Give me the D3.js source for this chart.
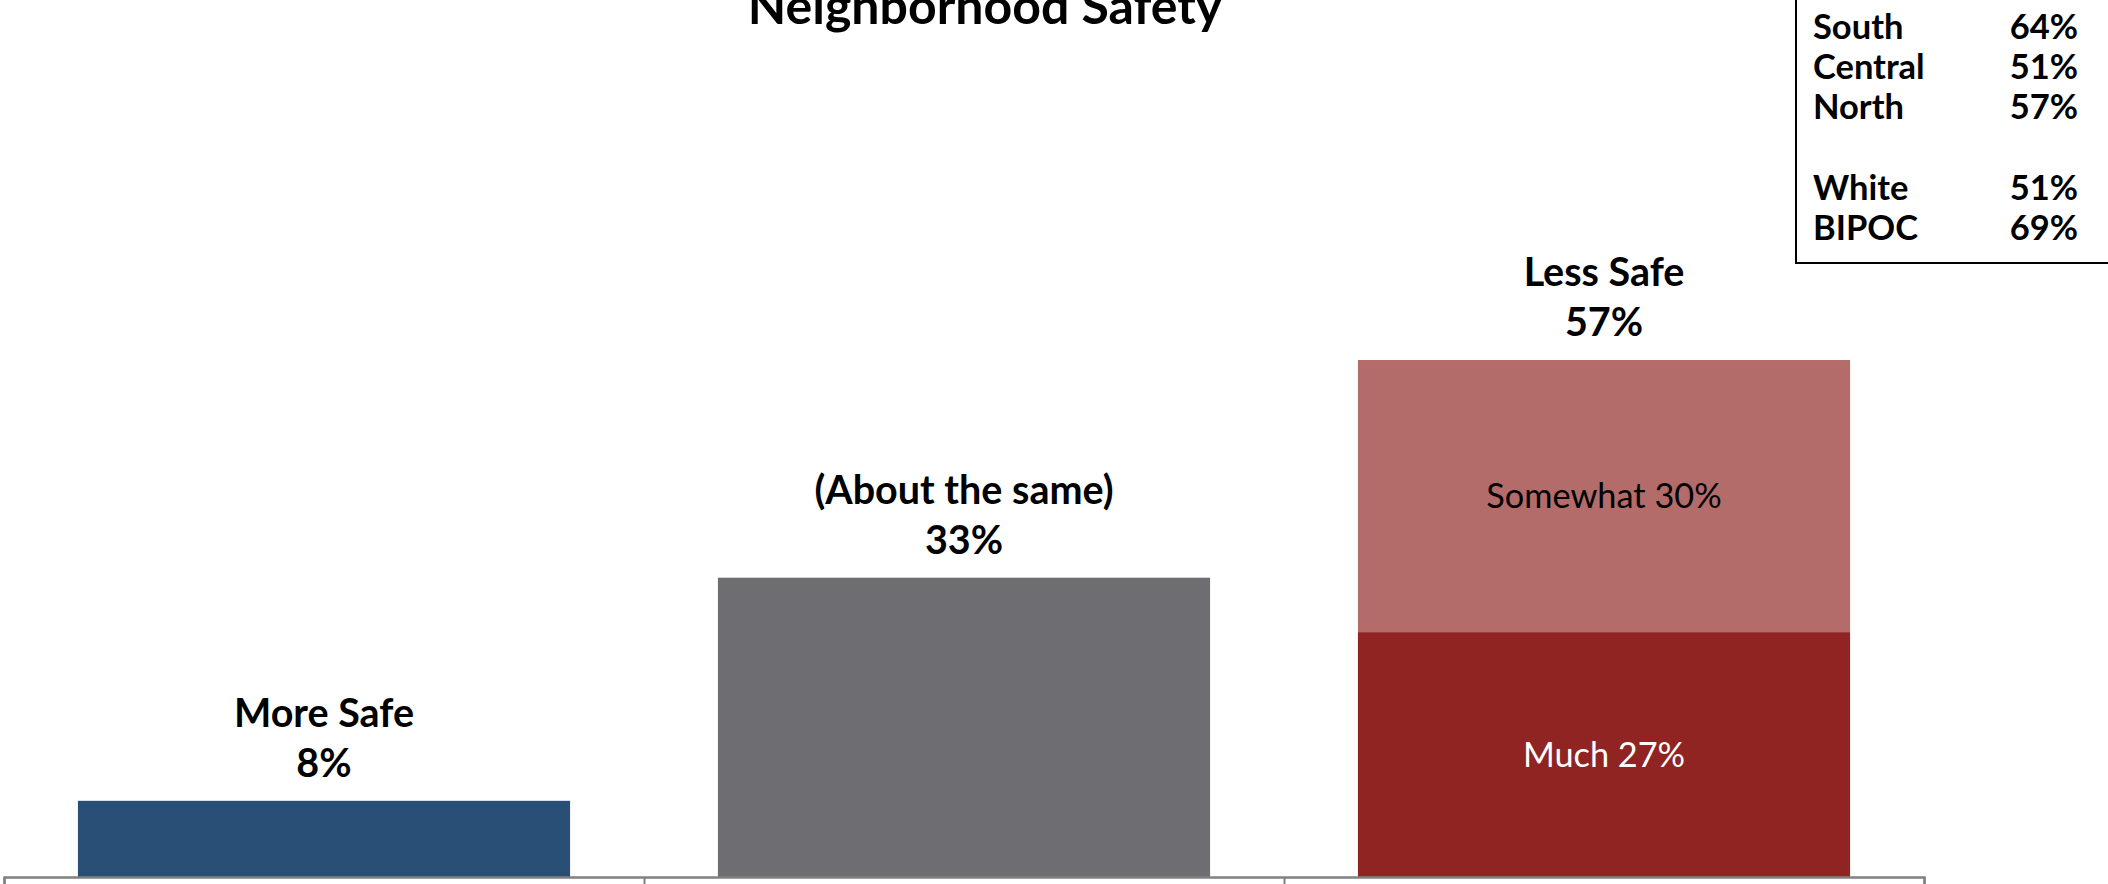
<!DOCTYPE html>
<html>
<head>
<meta charset="utf-8">
<script src="https://cdn.jsdelivr.net/npm/d3@7"></script>
<style>
  html, body { margin: 0; padding: 0; background: #ffffff; }
  svg { display: block; }
  text { font-family: Lato, "Noto Sans", sans-serif; }
</style>
</head>
<body>
<svg id="chart" width="2108" height="884"></svg>
<script>
// ---- data ----
const title = "Neighborhood Safety";
const categories = ["More Safe", "(About the same)", "Less Safe"];
const headerLabels = ["More Safe", "(About the same)", "Less Safe"];
const totals = [8.4, 33, 57];
const segmentNames = ["Much", "Somewhat"];
const moreSafeValues = [8.4];
const sameValues = [33];
const lessSafeMuch = [27];
const lessSafeSomewhat = [30];
const legendLabels = ["South", "Central", "North", "", "White", "BIPOC"];
const legendValues = ["64%", "51%", "57%", "", "51%", "69%"];

// ---- layout ----
const W = 2108, H = 884;
const baseY = 877;
const xLeft = 4, xRight = 1924;
const svg = d3.select("#chart");

const x = d3.scaleBand().domain(categories).range([xLeft, xRight])
  .paddingInner(0.231).paddingOuter(0.1155);
const y = d3.scaleLinear().domain([0, 100]).range([baseY, baseY - 907]);
const fmt = v => d3.format(".0f")(v) + "%";

// stacked structure built from the arrays
const stacks = [
  { cat: categories[0], segs: [{ name: "", v: moreSafeValues[0], color: "#2a4f77", text: null }] },
  { cat: categories[1], segs: [{ name: "", v: sameValues[0], color: "#6e6e72", text: null }] },
  { cat: categories[2], segs: [
      { name: segmentNames[0], v: lessSafeMuch[0], color: "#8f2422", text: "#ffffff" },
      { name: segmentNames[1], v: lessSafeSomewhat[0], color: "#b36c69", text: "#000000" }
  ] }
];
stacks.forEach(s => { let acc = 0; s.segs.forEach(g => { g.y0 = acc; acc += g.v; g.y1 = acc; }); });

const barsG = svg.append("g");
stacks.forEach(s => {
  barsG.selectAll(null).data(s.segs).enter().append("rect")
    .attr("x", x(s.cat))
    .attr("width", x.bandwidth())
    .attr("y", d => y(d.y1))
    .attr("height", d => y(d.y0) - y(d.y1))
    .attr("fill", d => d.color);
  barsG.selectAll(null).data(s.segs.filter(d => d.text)).enter().append("text")
    .attr("x", x(s.cat) + x.bandwidth() / 2)
    .attr("y", d => (y(d.y0) + y(d.y1)) / 2)
    .attr("dy", "0.36em")
    .attr("text-anchor", "middle")
    .attr("font-size", 34.3)
    .attr("fill", d => d.text)
    .text(d => d.name + " " + fmt(d.v));
});

// header labels above each bar
categories.forEach((c, i) => {
  const cx = x(c) + x.bandwidth() / 2;
  const top = y(totals[i]);
  svg.append("text").attr("x", cx).attr("y", top - 74)
    .attr("text-anchor", "middle").attr("font-size", 39.5).attr("font-weight", 700)
    .attr("fill", "#000").text(headerLabels[i]);
  svg.append("text").attr("x", cx).attr("y", top - 24)
    .attr("text-anchor", "middle").attr("font-size", 39.5).attr("font-weight", 700)
    .attr("fill", "#000").text(fmt(totals[i]));
});

// axis with ticks at category boundaries
const xb = d3.scaleLinear().domain([0, categories.length]).range([xLeft, xRight]);
const axis = d3.axisBottom(xb).tickValues(d3.range(categories.length + 1))
  .tickFormat("").tickSize(12).tickSizeOuter(12);
const axG = svg.append("g").attr("transform", `translate(0,${baseY})`).call(axis);
axG.select(".domain").attr("stroke", "#808080").attr("stroke-width", 2.5);
axG.selectAll(".tick line").attr("stroke", "#808080").attr("stroke-width", 2);

// title
svg.append("text").attr("x", 985).attr("y", 24)
  .attr("text-anchor", "middle").attr("font-size", 50).attr("font-weight", 700)
  .attr("fill", "#000").text(title);

// subgroup box
const box = svg.append("g");
box.append("rect").attr("x", 1796).attr("y", -10).attr("width", 340).attr("height", 273)
  .attr("fill", "#fff").attr("stroke", "#000").attr("stroke-width", 2);
const ly = d3.scalePoint().domain(d3.range(legendLabels.length)).range([39, 240]);
box.selectAll(null).data(legendLabels).enter().append("text")
  .attr("x", 1813).attr("y", (d, i) => ly(i))
  .attr("font-size", 34.5).attr("font-weight", 700).attr("fill", "#000").text(d => d);
box.selectAll(null).data(legendValues).enter().append("text")
  .attr("x", 2078).attr("y", (d, i) => ly(i)).attr("text-anchor", "end")
  .attr("font-size", 34.5).attr("font-weight", 700).attr("fill", "#000").text(d => d);
</script>
</body>
</html>
